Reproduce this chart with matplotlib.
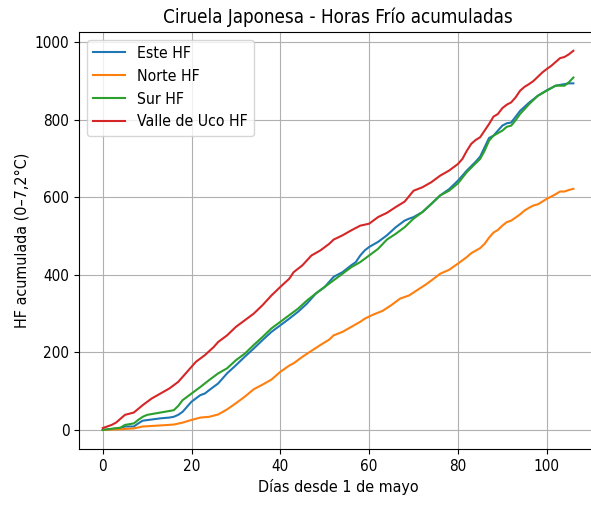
import matplotlib
matplotlib.use("Agg")
import matplotlib.pyplot as plt

este_dias = [0, 4, 5, 7, 8, 9, 11, 13, 15, 16, 17, 18, 19, 20, 22, 23, 24, 26, 28, 30,
             32, 34, 36, 38, 40, 42, 44, 46, 48, 50, 52, 54, 56, 57, 58, 59, 60, 62, 64, 66,
             68, 69, 70, 72, 74, 76, 78, 80, 82, 84, 85, 86, 87, 88, 89, 90, 91, 92, 94, 96,
             98, 100, 102, 104, 105, 106]
este_hf = [0, 5, 9, 9, 17, 24, 27, 30, 32, 34, 39, 47, 60, 73, 90, 94, 103, 120, 146, 167,
           189, 210, 232, 253, 270, 287, 305, 326, 352, 369, 395, 407, 425, 433, 450, 463, 472, 485, 502, 523,
           540, 545, 549, 562, 583, 605, 621, 643, 669, 692, 705, 729, 753, 759, 772, 785, 791, 793, 823, 844,
           862, 876, 888, 892, 894, 894]

norte_dias = [0, 4, 7, 9, 12, 16, 18, 20, 22, 24, 26, 28, 30, 32, 34, 36, 38, 40, 42, 43,
              45, 47, 49, 51, 52, 54, 56, 58, 59, 61, 63, 65, 67, 69, 71, 73, 75, 76, 78, 80,
              82, 83, 85, 86, 87, 88, 89, 90, 91, 92, 94, 95, 96, 97, 98, 100, 102, 103, 104, 105,
              106]
norte_hf = [0, 2, 4, 9, 11, 14, 19, 26, 32, 34, 40, 53, 69, 86, 105, 117, 130, 150, 166, 172,
            189, 204, 219, 233, 244, 253, 266, 279, 287, 298, 307, 322, 339, 347, 362, 377, 394, 403, 413, 429,
            446, 456, 469, 480, 496, 509, 516, 527, 536, 540, 556, 566, 573, 579, 582, 596, 608, 615, 615, 619,
            622]

sur_dias = [0, 2, 4, 5, 7, 8, 9, 10, 12, 14, 16, 17, 18, 20, 22, 24, 26, 28, 30, 32,
            34, 36, 38, 40, 42, 44, 46, 48, 50, 52, 54, 56, 58, 60, 62, 64, 66, 68, 70, 72,
            74, 76, 78, 80, 82, 84, 85, 86, 87, 88, 90, 91, 92, 93, 94, 96, 98, 100, 102, 103,
            104, 105, 106]
sur_hf = [0, 3, 6, 13, 17, 26, 34, 39, 43, 47, 51, 62, 77, 94, 111, 129, 146, 159, 180, 197,
          219, 240, 262, 279, 296, 313, 334, 352, 369, 386, 403, 420, 433, 450, 467, 491, 506, 523, 545, 562,
          583, 605, 617, 636, 665, 688, 699, 720, 746, 759, 772, 782, 785, 799, 815, 840, 862, 875, 888, 888,
          888, 897, 909]

uco_dias = [0, 2, 3, 5, 7, 9, 11, 13, 15, 17, 19, 21, 23, 25, 26, 28, 30, 32, 34, 36,
            38, 40, 42, 43, 45, 47, 49, 51, 52, 54, 56, 58, 60, 62, 64, 66, 68, 70, 72, 74,
            76, 78, 80, 81, 82, 83, 84, 85, 86, 87, 88, 89, 90, 91, 92, 93, 94, 95, 96, 97,
            98, 99, 100, 101, 102, 103, 104, 105, 106]
uco_hf = [5, 13, 19, 39, 45, 64, 81, 94, 107, 124, 150, 176, 193, 214, 227, 244, 266, 283, 300, 322,
          347, 369, 390, 407, 425, 450, 463, 480, 491, 502, 515, 527, 532, 549, 560, 575, 589, 617, 626, 639,
          656, 669, 686, 699, 720, 738, 748, 755, 772, 789, 808, 815, 830, 839, 845, 858, 875, 885, 892, 900,
          911, 922, 931, 939, 949, 959, 962, 969, 978]

plt.rcParams['font.family'] = ['DejaVu Sans']
plt.rcParams['font.stretch'] = 'condensed'

fig = plt.figure(figsize=(5.91, 5.05), dpi=100)
# la imagen original está recortada a la derecha: el eje sale un poco del lienzo
ax = fig.add_axes([0.134, 0.111, 0.876, 0.826])

ax.plot(este_dias, este_hf, label='Este HF')
ax.plot(norte_dias, norte_hf, label='Norte HF')
ax.plot(sur_dias, sur_hf, label='Sur HF')
ax.plot(uco_dias, uco_hf, label='Valle de Uco HF')

ax.set_xlim(-5.3, 111.3)
ax.spines['right'].set_visible(False)
ax.set_title('Ciruela Japonesa - Horas Frío acumuladas', fontsize=13.5)
ax.set_xlabel('Días desde 1 de mayo', fontsize=11.5)
ax.set_ylabel('HF acumulada (0–7,2°C)', fontsize=11.5)
ax.tick_params(labelsize=11)
ax.grid(True)
ax.legend(loc='upper left', fontsize=11.3)

fig.savefig('out.png', dpi=100)
